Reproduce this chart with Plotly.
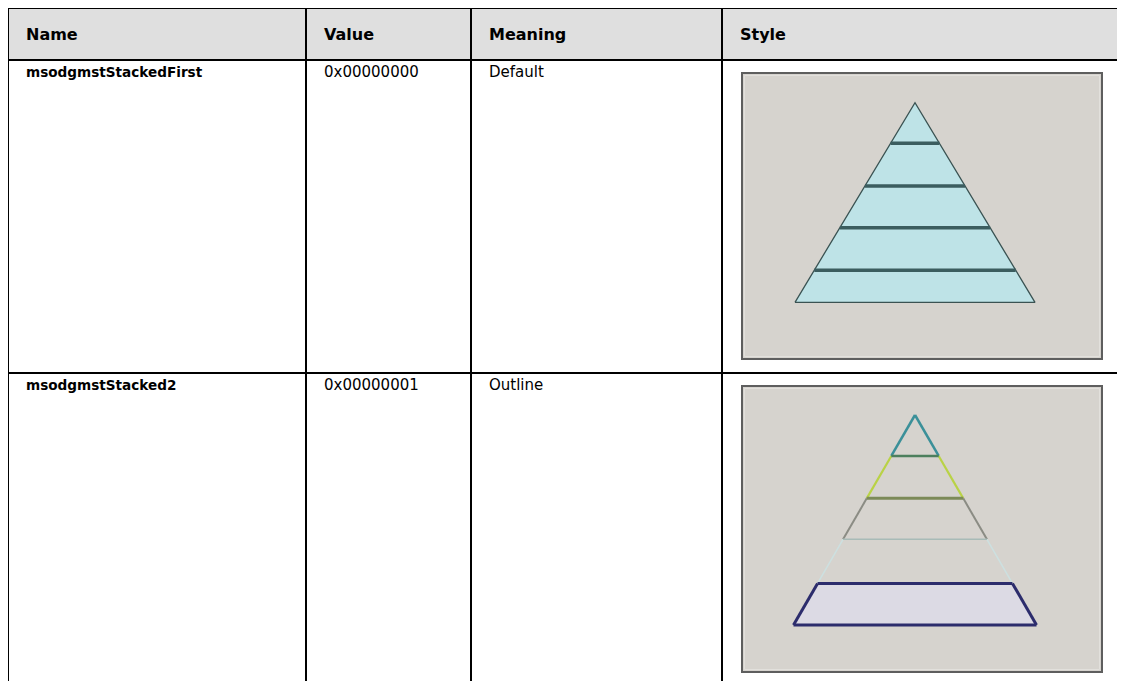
import plotly.graph_objects as go

# ---------------- data ----------------
headers = ["Name", "Value", "Meaning", "Style"]
names = ["msodgmstStackedFirst", "msodgmstStacked2"]
values = ["0x00000000", "0x00000001"]
meanings = ["Default", "Outline"]
# relative band boundaries of the two pyramids (0 = apex, 1 = base)
bands_default = [0.0, 0.203, 0.417, 0.626, 0.839, 1.0]
bands_outline = [0.0, 0.195, 0.397, 0.592, 0.802, 1.0]

# ---------------- layout constants ----------------
W, H = 1125, 681
OFF = 8  # page body margin compensation
col_x = [8, 306, 471, 722]
right_x = 1140
row_y = [8, 60, 373]
pad = 15.5
font_fam = "Verdana, DejaVu Sans, sans-serif"
box_x = (742, 1102)
box_y = [(73, 359), (386, 672)]
pyr = [  # apex x, apex y, height, half base width
    (915, 102.7, 199.6, 120),
    (915, 415.0, 210.0, 121.5),
]

fig = go.Figure()
shapes = []
annotations = []

# header background
shapes.append(dict(type="rect", xref="x", yref="y", x0=col_x[0], x1=right_x,
                   y0=row_y[0], y1=row_y[1], fillcolor="#dfdfdf", line_width=0, layer="below"))

# image boxes
for (y0, y1) in box_y:
    shapes.append(dict(type="rect", xref="x", yref="y", x0=box_x[0], x1=box_x[1], y0=y0, y1=y1,
                       fillcolor="#d6d3ce", line=dict(color="#5e5e5e", width=2), layer="below"))
    shapes.append(dict(type="rect", xref="x", yref="y", x0=box_x[0] + 2.5, x1=box_x[1] - 2.5,
                       y0=y0 + 2.5, y1=y1 - 2.5, fillcolor="rgba(0,0,0,0)",
                       line=dict(color="#e2e0dc", width=1), layer="below"))

# grid lines
gx, gy = [], []
for y in row_y:
    gx += [col_x[0] - 1, right_x, None]
    gy += [y, y, None]
for x in col_x:
    gx += [x, x, None]
    gy += [row_y[0], H + 2 * OFF, None]
fig.add_trace(go.Scatter(x=gx, y=gy, mode="lines", line=dict(color="#000000", width=2),
                         hoverinfo="skip", showlegend=False))

# header text
for i, h in enumerate(headers):
    annotations.append(dict(x=col_x[i] + pad, y=(row_y[0] + row_y[1]) / 2, xref="x", yref="y",
                            text="<b>" + h + "</b>", showarrow=False, xanchor="left", yanchor="middle",
                            font=dict(family=font_fam, size=16, color="#000000")))

# body text
row_text_y = [row_y[1] + 12, row_y[2] + 12]
for r in range(len(names)):
    cells = ["<b>" + names[r] + "</b>", values[r], meanings[r]]
    for c, t in enumerate(cells):
        annotations.append(dict(x=col_x[c] + pad + (0 if c == 0 else 0.5), y=row_text_y[r],
                                xref="x", yref="y",
                                text=t, showarrow=False, xanchor="left", yanchor="middle",
                                font=dict(family=font_fam, size=13.6 if c == 0 else 15,
                                          color="#000000")))


def band_pts(p, f):
    ax, ay, hgt, hw = p
    return ax - f * hw, ax + f * hw, ay + f * hgt


# ---- pyramid 1 (Default) ----
p = pyr[0]
lx, rx, by = band_pts(p, 1.0)
_, _, ay = band_pts(p, 0.0)
fig.add_trace(go.Scatter(x=[lx, p[0], rx, lx], y=[by, ay, by, by], mode="lines", fill="toself",
                         fillcolor="#bee3e7", line=dict(color="#3a5252", width=1.3),
                         hoverinfo="skip", showlegend=False))
sx, sy = [], []
for f in bands_default[1:-1]:
    l, r_, y = band_pts(p, f)
    sx += [l, r_, None]
    sy += [y, y, None]
fig.add_trace(go.Scatter(x=sx, y=sy, mode="lines", line=dict(color="#3b5d5f", width=3.5),
                         hoverinfo="skip", showlegend=False))

# ---- pyramid 2 (Outline) ----
p = pyr[1]
side_cols = ["#3b9099", "#b9d246", "#8b8c84", "#cde0e0", "#2c2c6c"]
side_w = [2.5, 2.2, 2.0, 1.6, 3.0]
bottom_cols = ["#4d7f5d", "#7c8a58", "#a8bbb7", "#2c2c6c", "#2c2c6c"]
bottom_w = [2.6, 3.0, 1.6, 3.0, 3.0]
# lower band filled
l1, r1, y1 = band_pts(p, bands_outline[4])
l2, r2, y2 = band_pts(p, bands_outline[5])
fig.add_trace(go.Scatter(x=[l1, r1, r2, l2, l1], y=[y1, y1, y2, y2, y1], mode="lines", fill="toself",
                         fillcolor="#dcdae4", line=dict(color="rgba(0,0,0,0)", width=0),
                         hoverinfo="skip", showlegend=False))
for i in range(5):
    lt, rt, yt = band_pts(p, bands_outline[i])
    lb, rb, yb = band_pts(p, bands_outline[i + 1])
    fig.add_trace(go.Scatter(x=[lt, lb, None, rt, rb], y=[yt, yb, None, yt, yb], mode="lines",
                             line=dict(color=side_cols[i], width=side_w[i]),
                             hoverinfo="skip", showlegend=False))
for i in range(5):
    lb, rb, yb = band_pts(p, bands_outline[i + 1])
    fig.add_trace(go.Scatter(x=[lb, rb], y=[yb, yb], mode="lines",
                             line=dict(color=bottom_cols[i], width=bottom_w[i]),
                             hoverinfo="skip", showlegend=False))

fig.update_layout(
    width=W, height=H, margin=dict(l=0, r=0, t=0, b=0),
    paper_bgcolor="#ffffff", plot_bgcolor="#ffffff",
    xaxis=dict(range=[OFF, W + OFF], visible=False, fixedrange=True),
    yaxis=dict(range=[H + OFF, OFF], visible=False, fixedrange=True),
    shapes=shapes, annotations=annotations, showlegend=False,
)
fig.write_html("out.html")
